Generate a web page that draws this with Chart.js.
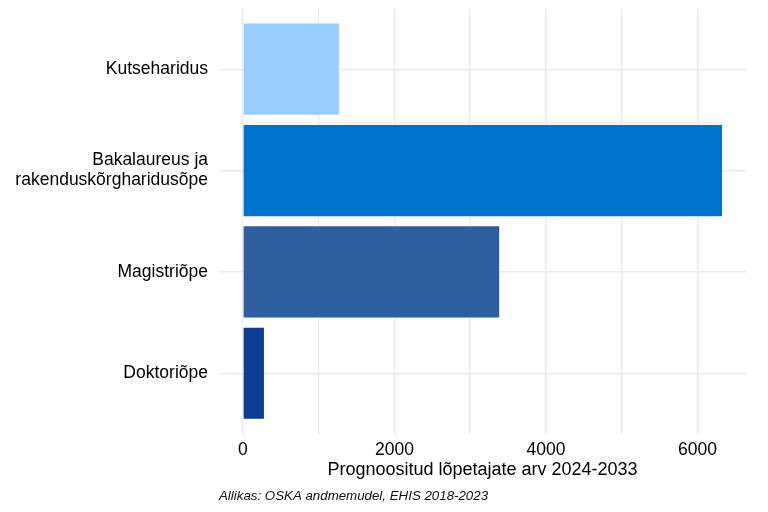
<!DOCTYPE html>
<html>
<head>
<meta charset="utf-8">
<script src="https://cdn.jsdelivr.net/npm/chart.js@4"></script>
<style>
  html, body { margin: 0; padding: 0; background: #ffffff; }
  #wrap { width: 768px; height: 512px; }
</style>
</head>
<body>
<div id="wrap"><canvas id="c" width="768" height="512"></canvas></div>
<script>
const categories = ['Kutseharidus', ['Bakalaureus ja', 'rakenduskõrgharidusõpe'], 'Magistriõpe', 'Doktoriõpe'];
const values = [1266, 6325, 3383, 277];
const barColors = ['#99CCFF', '#0072CE', '#2C5EA0', '#0C3D91'];
const xTickValues = [0, 1000, 2000, 3000, 4000, 5000, 6000];
const xTickLabels = {0: '0', 2000: '2000', 4000: '4000', 6000: '6000'};
const xTitle = 'Prognoositud lõpetajate arv 2024-2033';
const caption = 'Allikas: OSKA andmemudel, EHIS 2018-2023';

const maxVal = Math.max(...values);
const FONT = "'Liberation Sans', Arial, sans-serif";

new Chart(document.getElementById('c'), {
  type: 'bar',
  data: {
    datasets: [{
      data: values.map((v, i) => ({ x: v, y: i })),
      backgroundColor: barColors,
      borderWidth: 0,
      barPercentage: 0.9,
      categoryPercentage: 1.0
    }]
  },
  options: {
    indexAxis: 'y',
    responsive: false,
    animation: false,
    devicePixelRatio: 1,
    layout: { padding: { top: 8.4, right: 22, bottom: 0, left: 0 } },
    plugins: {
      legend: { display: false },
      tooltip: { enabled: false },
      title: {
        display: true,
        text: caption,
        position: 'bottom',
        align: 'start',
        fullSize: false,
        color: '#111111',
        font: { family: FONT, size: 13.3, style: 'italic', weight: 'normal', lineHeight: 1.2 },
        padding: { top: 2, bottom: 7.4 }
      }
    },
    scales: {
      x: {
        type: 'linear',
        position: 'bottom',
        min: -0.05 * maxVal,
        max: 1.05 * maxVal,
        afterBuildTicks: (s) => { s.ticks = xTickValues.map(v => ({ value: v })); },
        afterFit: (s) => { s.height = 52.6; s.paddingLeft = 0; s.paddingRight = 0; },
        ticks: {
          autoSkip: false,
          maxRotation: 0,
          padding: 6,
          color: '#000000',
          font: { family: FONT, size: 17.5, lineHeight: 1.2 },
          callback: (v) => (xTickLabels[v] !== undefined ? xTickLabels[v] : '')
        },
        grid: { color: '#ebebeb', lineWidth: 1.4, drawTicks: false },
        border: { display: false },
        title: {
          display: true,
          text: xTitle,
          color: '#000000',
          font: { family: FONT, size: 18, lineHeight: 1.2 },
          padding: { top: 0, bottom: 5.4 }
        }
      },
      y: {
        type: 'linear',
        reverse: true,
        offset: false,
        min: -0.6,
        max: categories.length - 1 + 0.6,
        afterBuildTicks: (s) => { s.ticks = categories.map((c, i) => ({ value: i })); },
        afterFit: (s) => { s.width = 219; s.paddingTop = 0; s.paddingBottom = 0; },
        ticks: {
          autoSkip: false,
          padding: 11,
          color: '#000000',
          font: { family: FONT, size: 17.5, lineHeight: 1.15 },
          callback: (v) => categories[v]
        },
        grid: { color: '#ebebeb', lineWidth: 1.4, drawTicks: false, offset: false },
        border: { display: false }
      }
    }
  }
});
</script>
</body>
</html>
